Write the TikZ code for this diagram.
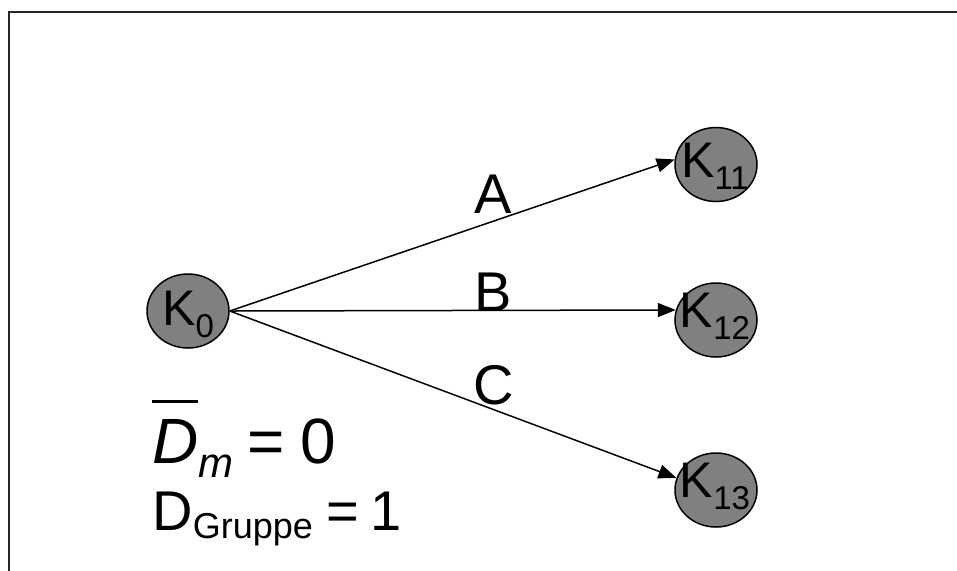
\documentclass[tikz,border=0pt]{standalone}
\usepackage{fontspec}
\setmainfont{Liberation Sans}
\usetikzlibrary{shapes.geometric,arrows.meta}
\definecolor{nodegray}{RGB}{128,128,128}
\tikzset{
  knoten/.style={ellipse, draw=black, fill=nodegray, line width=0.75pt,
    minimum width=41pt, minimum height=37pt, inner sep=0pt},
  klabel/.style={anchor=base, inner sep=0pt, font=\fontsize{25}{28}\selectfont},
  kante/.style={line width=0.75pt, -{Triangle[length=9pt,width=7pt]}},
  elabel/.style={anchor=base, inner sep=0pt, font=\fontsize{28}{32}\selectfont},
  formel/.style={anchor=base west, inner sep=0pt},
  rahmen/.style={draw=black!85, line width=1pt},
}
% lowered index for the node names
\newcommand{\ksub}[1]{\raisebox{-6pt}{\fontsize{16.5}{18}\selectfont #1}}

\begin{document}
\begin{tikzpicture}[x=0.5pt,y=-0.5pt]
\useasboundingbox (0,0) rectangle (957,570);
\clip (0,0) rectangle (957,570);

% frame
\draw[rahmen] (8.5,11.5) rectangle (1000,620);

% nodes
\node[knoten] (K0)  at (188,311)   {};
\node[knoten] (K11) at (716,164.5) {};
\node[knoten] (K12) at (716,320)   {};
\node[knoten] (K13) at (716,490)   {};

\node[klabel] (tK0)  at (188,325) {K\ksub{0}};
\node[klabel] (tK11) at (715,177) {K\ksub{11}};
\node[klabel] (tK12) at (715,327) {K\ksub{12}};
\node[klabel] (tK13) at (715,497) {K\ksub{13}};

% edges
\draw[kante] (K0.east) -- (K11.173);
\draw[kante] (K0.east) -- (K12.166);
\draw[kante] (K0.east) -- (K13.163);

\node[elabel] (lA) at (493,213) {A};
\node[elabel] (lB) at (493,311) {B};
\node[elabel] (lC) at (494,404) {C};

% formulas
\node[formel] (dm) at (152,463) {\fontsize{32}{36}\selectfont
  \makebox[0pt][l]{\raisebox{30pt}{\rule{23pt}{1.6pt}}}\textit{D}\raisebox{-7pt}{\fontsize{21}{22}\selectfont\textit{m}}\hspace{7pt}=\hspace{8pt}0};
\node[formel] (dg) at (152,530) {\fontsize{28}{32}\selectfont
  D\raisebox{-4pt}{\fontsize{18}{22}\selectfont Gruppe}\hspace{7pt}=\hspace{5.5pt}1};
\end{tikzpicture}
\end{document}
